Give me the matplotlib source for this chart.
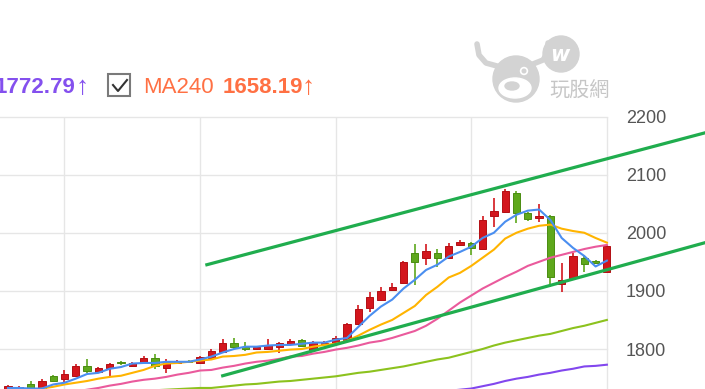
import numpy as np
import matplotlib
matplotlib.use('Agg')
import matplotlib.pyplot as plt
from matplotlib.patches import Rectangle, Circle, Ellipse

# daily candles, oldest first (index 0 = first bar at the left edge)
opens  = [1731, 1728, 1740, 1726, 1753, 1748, 1753, 1771, 1760, 1767,
          1777, 1771, 1776, 1784, 1767, 1776, 1779, 1776, 1784, 1795,
          1810, 1803, 1800, 1800, 1803, 1809, 1816, 1798, 1809, 1810,
          1816, 1843, 1871, 1884, 1902, 1914, 1966, 1957, 1966, 1957,
          1979, 1983, 1972, 2029, 2036, 2069, 2034, 2026, 2029, 1912,
          1922, 1957, 1952, 1933]
highs  = [1738, 1736, 1745, 1748, 1755, 1764, 1774, 1783, 1769, 1776,
          1779, 1778, 1788, 1791, 1783, 1781, 1781, 1788, 1800, 1817,
          1819, 1812, 1805, 1817, 1812, 1817, 1817, 1814, 1814, 1822,
          1845, 1876, 1898, 1907, 1914, 1952, 1981, 1981, 1972, 1983,
          1988, 1984, 2028, 2059, 2076, 2072, 2036, 2050, 2031, 1948,
          1966, 1962, 1953, 1979]
lows   = [1729, 1727, 1726, 1725, 1743, 1743, 1752, 1759, 1759, 1753,
          1772, 1769, 1774, 1766, 1759, 1774, 1776, 1774, 1783, 1793,
          1800, 1797, 1798, 1798, 1793, 1807, 1803, 1797, 1807, 1809,
          1814, 1841, 1864, 1883, 1900, 1912, 1910, 1945, 1941, 1955,
          1978, 1962, 1971, 2010, 2034, 2017, 2021, 2019, 1907, 1898,
          1921, 1933, 1947, 1931]
closes = [1736, 1734, 1733, 1745, 1745, 1757, 1771, 1762, 1767, 1774,
          1776, 1776, 1784, 1771, 1778, 1779, 1777, 1786, 1797, 1810,
          1803, 1800, 1803, 1807, 1810, 1814, 1805, 1812, 1810, 1819,
          1843, 1869, 1890, 1900, 1907, 1950, 1950, 1969, 1957, 1978,
          1984, 1974, 2022, 2038, 2072, 2034, 2024, 2029, 1924, 1919,
          1960, 1947, 1948, 1978]

# moving averages as drawn on the chart
ma5   = [1733, 1733, 1732, 1732, 1739, 1742, 1749, 1757, 1759, 1766,
         1769, 1775, 1776, 1776, 1778, 1778, 1778, 1782, 1787, 1794,
         1800, 1804, 1804, 1806, 1807, 1807, 1809, 1811, 1811, 1816,
         1819, 1838, 1857, 1873, 1885, 1904, 1919, 1936, 1945, 1959,
         1967, 1976, 1991, 2000, 2019, 2031, 2038, 2040, 2022, 1991,
         1974, 1960, 1942, 1952]
ma10  = [1723, 1727, 1728, 1732, 1735, 1739, 1742, 1745, 1749, 1752,
         1754, 1759, 1764, 1771, 1775, 1776, 1778, 1780, 1782, 1787,
         1788, 1790, 1794, 1795, 1797, 1799, 1800, 1804, 1807, 1809,
         1814, 1823, 1833, 1842, 1850, 1862, 1874, 1893, 1907, 1923,
         1931, 1943, 1957, 1971, 1990, 2000, 2007, 2012, 2014, 2007,
         2003, 2000, 1991, 1983]
ma20  = [1706, 1709, 1713, 1716, 1720, 1723, 1727, 1730, 1733, 1737,
         1740, 1744, 1747, 1749, 1752, 1756, 1759, 1763, 1764, 1768,
         1771, 1775, 1778, 1780, 1783, 1787, 1788, 1792, 1795, 1799,
         1802, 1806, 1811, 1814, 1819, 1825, 1831, 1840, 1852, 1866,
         1880, 1892, 1904, 1914, 1924, 1933, 1943, 1950, 1957, 1962,
         1967, 1972, 1976, 1979]
ma60  = [1718, 1719, 1720, 1721, 1722, 1722, 1723, 1724, 1725, 1726,
         1727, 1727, 1728, 1729, 1730, 1731, 1732, 1733, 1733, 1735,
         1737, 1739, 1740, 1742, 1744, 1745, 1747, 1749, 1751, 1753,
         1756, 1759, 1761, 1764, 1767, 1770, 1774, 1778, 1782, 1785,
         1790, 1795, 1800, 1806, 1811, 1815, 1819, 1823, 1826, 1831,
         1836, 1840, 1845, 1850]
ma120 = [np.nan] * 38 + [1726, 1728, 1730, 1732, 1736, 1740, 1745, 1749,
                         1752, 1756, 1759, 1763, 1766, 1770, 1771, 1773]

# hand drawn channel (bar index, price)
upper_x, upper_y = [17.6, 61.7], [1945, 2172]
lower_x, lower_y = [19.0, 61.7], [1754, 1983]

yticks = [1800, 1900, 2000, 2100, 2200]
vgrid = [5, 17, 29, 41, 53]
ma120_last, ma240_last = '1772.79', '1658.19'

W, H = 705, 389
UP, DOWN = '#d3161d', '#5ea81c'

fig = plt.figure(figsize=(W / 100, H / 100), dpi=100)
deco = fig.add_axes([0, 0, 1, 1])
deco.set_xlim(0, W)
deco.set_ylim(H, 0)
deco.axis('off')

ax = fig.add_axes([0, 0, 614 / W, 272.5 / H])
ax.set_zorder(2)
ax.patch.set_alpha(0)

n = len(closes)
idx = np.arange(n)
ax.set_xlim(-0.708, 53.63)
ax.set_ylim(1731.2, 2200)

for v in yticks:
    ax.axhline(v, xmax=607 / 614, color='#e6e6e6', lw=1, zorder=0, clip_on=False)
for v in vgrid:
    ax.axvline(v, color='#e6e6e6', lw=1, zorder=0)

o = np.array(opens); c = np.array(closes)
cols = np.where(c >= o, UP, DOWN)
edges = np.where(c >= o, '#b30f14', '#4a8c12')
ax.vlines(idx, lows, highs, colors=cols, lw=1.2, zorder=2)
bh = np.maximum(np.abs(c - o), 1.6)
ax.bar(idx, bh, bottom=np.minimum(o, c), width=0.64, color=cols,
       edgecolor=edges, linewidth=0.7, zorder=3)

ax.plot(idx, ma60, color='#8cc21e', lw=1.5, zorder=4)
ax.plot(idx, ma120, color='#8247ee', lw=1.5, zorder=4)
ax.plot(idx, ma20, color='#ea5a9c', lw=1.5, zorder=4)
ax.plot(idx, ma10, color='#ffb400', lw=1.5, zorder=4)
ax.plot(idx, ma5, color='#4a8ef0', lw=1.5, zorder=5)

ax.plot(upper_x, upper_y, color='#20ad4e', lw=2.3, zorder=6, clip_on=False)
ax.plot(lower_x, lower_y, color='#20ad4e', lw=2.3, zorder=6, clip_on=False)

ax.yaxis.tick_right()
ax.set_yticks(yticks)
ax.set_yticklabels([str(v) for v in yticks], fontsize=13, color='#555555',
                   family='Liberation Sans')
ax.tick_params(axis='y', length=0, pad=8.6)
ax.set_xticks([])
for s in ax.spines.values():
    s.set_visible(False)

# watermark
wm = '#d3d3d3'
deco.add_patch(Circle((561, 54), 18, color=wm, zorder=1))
deco.text(560, 55, 'w', color='white', fontsize=15, fontweight='bold', style='italic',
          ha='center', va='center', zorder=2)
deco.add_patch(Ellipse((516, 79), 46, 46, color=wm, zorder=1))
deco.add_patch(Ellipse((515, 88), 32, 20, color='white', zorder=2))
deco.add_patch(Ellipse((512, 86), 14, 8, color=wm, zorder=3))
deco.add_patch(Circle((524, 71), 3.5, color='white', zorder=2))
deco.add_patch(Circle((524, 71), 1.8, color=wm, zorder=3))
deco.plot([477, 479, 486, 497], [44, 55, 63, 66], color=wm, lw=4, solid_capstyle='round', zorder=1)
deco.plot([533, 543, 548, 548], [64, 60, 52, 43], color=wm, lw=4, solid_capstyle='round', zorder=1)
deco.text(579, 91, '玩股網', ha='center', va='center', fontsize=14.5, color='#c6c6c6',
          family=['Noto Sans CJK TC', 'DejaVu Sans'])

# legend row
fam = ['Liberation Sans', 'DejaVu Sans']
deco.text(75, 92.5, ma120_last, ha='right', va='baseline', fontsize=16, fontweight='bold',
          color='#8450ee', family=fam)
deco.text(76, 94, '↑', ha='left', va='baseline', fontsize=19, color='#8450ee', family=fam)
deco.add_patch(Rectangle((108, 74), 22, 22, fill=False, edgecolor='#7a7a7a', lw=1.5))
deco.plot([113, 118, 127], [85, 91, 80], color='#333333', lw=1.5)
deco.text(143, 92.5, 'MA240', ha='left', va='baseline', fontsize=16, color='#ff7043', family=fam)
deco.text(223, 92.5, ma240_last, ha='left', va='baseline', fontsize=16, fontweight='bold',
          color='#ff7043', family=fam)
deco.text(302, 94, '↑', ha='left', va='baseline', fontsize=19, color='#ff7043', family=fam)

fig.savefig('out.png', dpi=100)
